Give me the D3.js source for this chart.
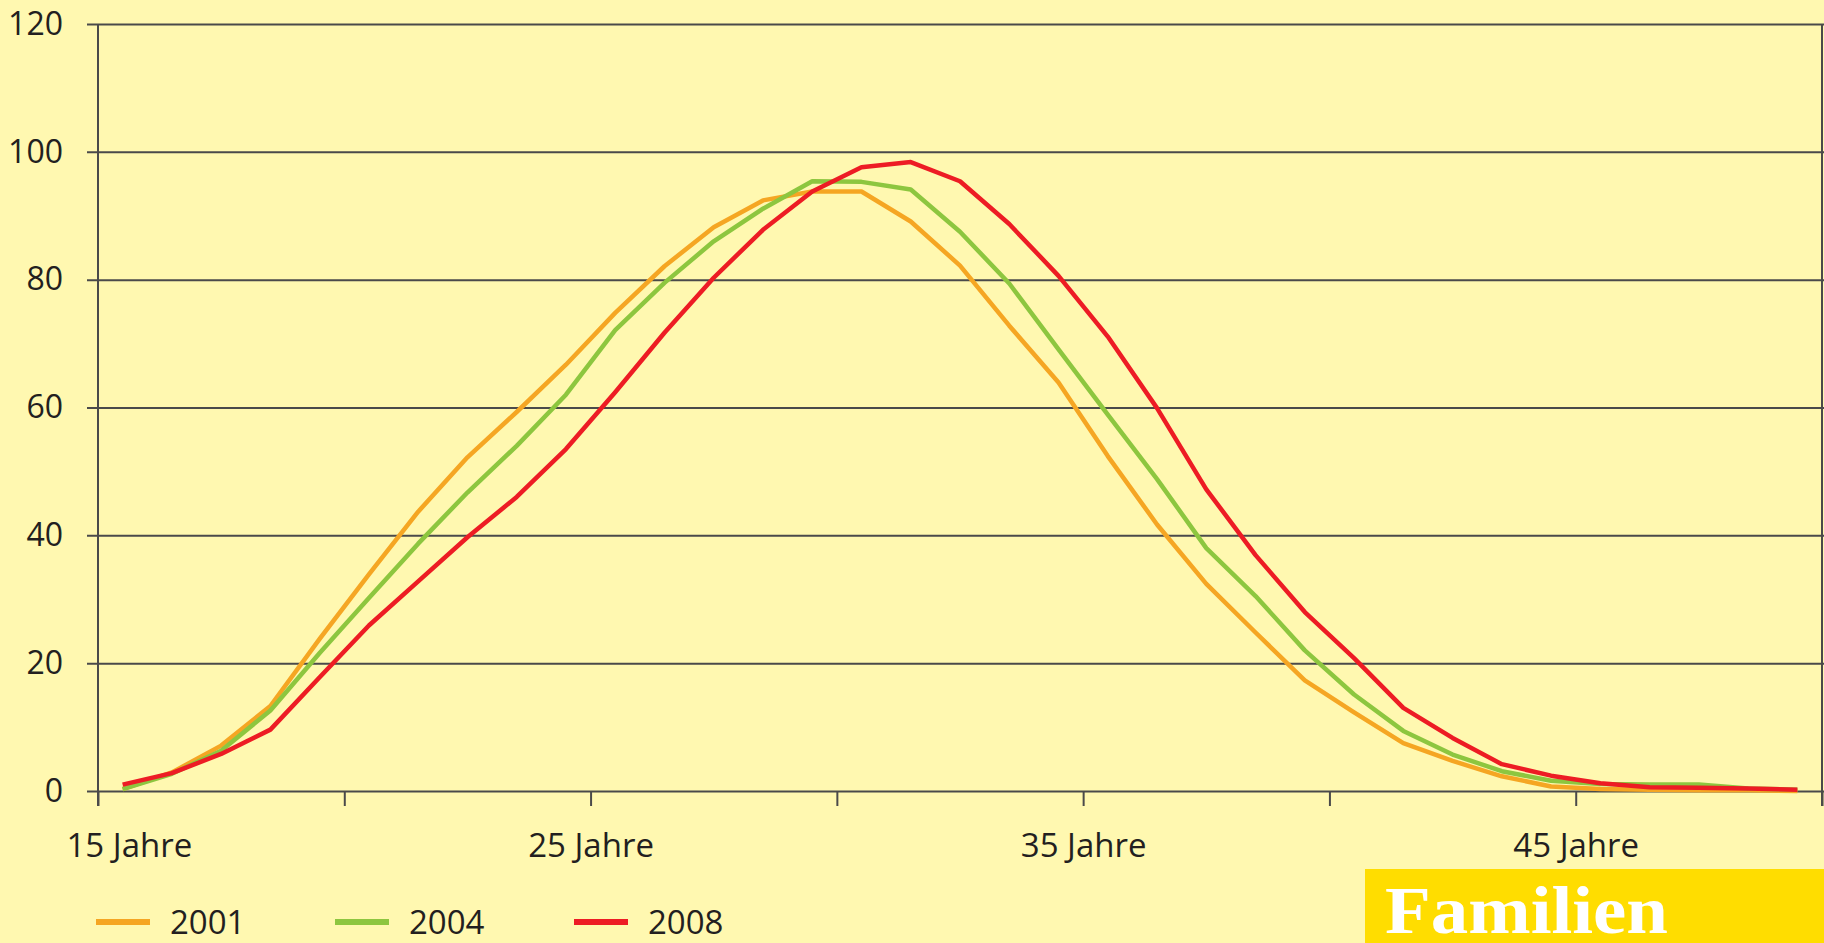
<!DOCTYPE html>
<html lang="de">
<head>
<meta charset="utf-8">
<title>Geburten nach Alter der Mutter</title>
<script src="https://cdn.jsdelivr.net/npm/d3@7"></script>
<style>
  html, body { margin: 0; padding: 0; background: #fff8b0; }
  svg { display: block; }
  text { font-family: 'Open Sans', 'Noto Sans', sans-serif; fill: #231f20; }
</style>
</head>
<body>
<div id="chart"></div>
<script>
// Alter der Mutter (Jahre), Werte je Altersjahr
const ages = [15, 16, 17, 18, 19, 20, 21, 22, 23, 24, 25, 26, 27, 28, 29, 30, 31, 32,
  33, 34, 35, 36, 37, 38, 39, 40, 41, 42, 43, 44, 45, 46, 47, 48, 49];

const values2001 = [0.3, 2.9, 7.1, 13.3, 23.8, 33.9, 43.7, 52.2, 59.3, 66.7, 74.8, 82.1,
  88.2, 92.4, 93.8, 93.8, 89.1, 82.2, 72.8, 63.9, 52.4, 41.7, 32.4, 24.8, 17.3, 12.3,
  7.5, 4.7, 2.3, 0.7, 0.3, 0.2, 0.1, 0.1, 0.0];

const values2004 = [0.3, 2.7, 6.3, 12.6, 21.6, 30.2, 38.7, 46.7, 54.0, 62.0, 72.1, 79.5,
  86.0, 91.1, 95.4, 95.3, 94.1, 87.5, 79.4, 69.1, 58.9, 48.8, 38.0, 30.5, 22.0, 15.1,
  9.4, 5.7, 3.1, 1.6, 1.1, 1.0, 1.0, 0.4, 0.2];

const values2008 = [1.0, 2.8, 5.8, 9.6, 17.8, 25.9, 32.8, 39.7, 46.0, 53.5, 62.4, 71.7,
  80.3, 87.8, 93.8, 97.6, 98.4, 95.4, 88.7, 80.6, 71.1, 59.9, 47.2, 36.9, 28.0, 20.8,
  13.0, 8.3, 4.2, 2.4, 1.2, 0.6, 0.5, 0.4, 0.2];

const seriesNames = ['2001', '2004', '2008'];
const seriesColors = ['#f5a623', '#8dc63f', '#ed1c24'];

const yTicks = [0, 20, 40, 60, 80, 100, 120];
const xTicks = [15, 20, 25, 30, 35, 40, 45, 50];
const xLabelTicks = [15, 25, 35, 45];

const width = 1824;
const height = 943;

const svg = d3.select('#chart')
  .append('svg')
  .attr('width', width)
  .attr('height', height);

svg.append('rect')
  .attr('width', width)
  .attr('height', height)
  .attr('fill', '#fff8b0');

const x = d3.scaleLinear().domain([15, 50]).range([98, 1822]);
const y = d3.scaleLinear().domain([0, 120]).range([791, 24]);

const gridColor = '#4a4a4a';

// y axis with gridlines
const yAxis = svg.append('g')
  .attr('transform', `translate(${x(15)},0)`)
  .call(d3.axisLeft(y)
    .tickValues(yTicks)
    .tickSize(-(x(50) - x(15) + 2))
    .tickPadding(35));

yAxis.select('.domain').remove();
yAxis.selectAll('.tick line')
  .attr('x1', -11)
  .attr('stroke', gridColor)
  .attr('stroke-width', 2);
yAxis.selectAll('.tick text')
  .attr('font-size', 32)
  .attr('font-family', null)
  .attr('fill', '#231f20');

// x axis ticks
const xAxis = svg.append('g')
  .attr('transform', `translate(0,${y(0)})`)
  .call(d3.axisBottom(x)
    .tickValues(xTicks)
    .tickSize(15)
    .tickFormat(d => xLabelTicks.includes(d) ? `${d} Jahre` : ''));

xAxis.select('.domain').remove();
xAxis.selectAll('.tick line')
  .attr('stroke', gridColor)
  .attr('stroke-width', 2);
xAxis.selectAll('.tick text')
  .attr('font-size', 33)
  .attr('font-family', null)
  .attr('fill', '#231f20')
  .attr('y', 66)
  .attr('dy', 0);
// first label sits right of its tick
xAxis.selectAll('.tick text')
  .filter(d => d === 15)
  .attr('text-anchor', 'start')
  .attr('x', -32);

// vertical frame lines left and right
svg.selectAll('line.frame')
  .data([15, 50])
  .enter()
  .append('line')
  .attr('class', 'frame')
  .attr('x1', d => x(d))
  .attr('x2', d => x(d))
  .attr('y1', y(120))
  .attr('y2', y(0) + 15)
  .attr('stroke', gridColor)
  .attr('stroke-width', 2);

// curves
const allSeries = [values2001, values2004, values2008];

const line = d3.line()
  .x((d, i) => x(ages[i] + 0.5))
  .y(d => y(d));

svg.selectAll('path.series')
  .data(allSeries)
  .enter()
  .append('path')
  .attr('class', 'series')
  .attr('d', d => line(d))
  .attr('fill', 'none')
  .attr('stroke', (d, i) => seriesColors[i])
  .attr('stroke-width', 4.5)
  .attr('stroke-linejoin', 'round');

// legend
const legend = svg.selectAll('g.legend')
  .data(seriesNames)
  .enter()
  .append('g')
  .attr('class', 'legend')
  .attr('transform', (d, i) => `translate(${96 + i * 239},922)`);

legend.append('line')
  .attr('x1', 0)
  .attr('x2', 54)
  .attr('stroke', (d, i) => seriesColors[i])
  .attr('stroke-width', 6);

legend.append('text')
  .attr('x', 74)
  .attr('y', 12)
  .attr('font-size', 33)
  .text(d => d);

// "Familien" label box
svg.append('rect')
  .attr('x', 1365)
  .attr('y', 869)
  .attr('width', width - 1365)
  .attr('height', height - 869)
  .attr('fill', '#ffdd00');

svg.append('text')
  .attr('x', 1385)
  .attr('y', 933)
  .attr('font-size', 68)
  .attr('textLength', 283)
  .attr('lengthAdjust', 'spacingAndGlyphs')
  .style('font-family', "'Liberation Serif', 'DejaVu Serif', serif")
  .style('font-weight', 'bold')
  .style('fill', '#ffffff')
  .text('Familien');
</script>
</body>
</html>
